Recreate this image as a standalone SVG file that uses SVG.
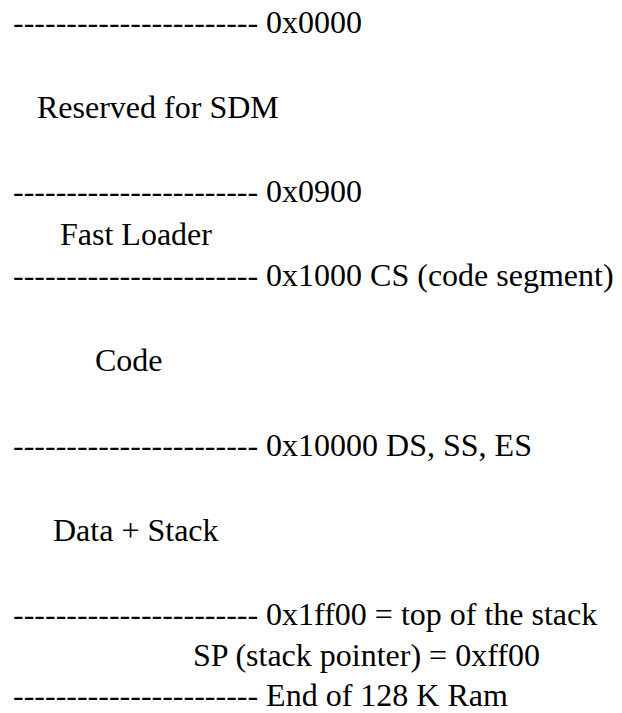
<svg xmlns="http://www.w3.org/2000/svg" width="622" height="713" viewBox="0 0 622 713">
<style>
text{font-family:"Liberation Serif","Times New Roman",serif;font-size:32px;fill:#000;white-space:pre}
</style>
<rect width="622" height="713" fill="#fff"/>
<g id="memory-map" font-family="Liberation Serif, serif">
<g id="addr-0000"><text x="13" y="33">----------------------- 0x0000</text></g>
<g id="reserved"><text x="37" y="118">Reserved for SDM</text></g>
<g id="addr-0900"><text x="13" y="202.2">----------------------- 0x0900</text></g>
<g id="fast-loader"><text x="60" y="244.5">Fast Loader</text></g>
<g id="addr-1000"><text x="13" y="286">----------------------- 0x1000 CS (code segment)</text></g>
<g id="code"><text x="95" y="371">Code</text></g>
<g id="addr-10000"><text x="13" y="456">----------------------- 0x10000 DS, SS, ES</text></g>
<g id="data-stack"><text x="53" y="541">Data + Stack</text></g>
<g id="addr-1ff00"><text x="13" y="624.5">----------------------- 0x1ff00 = top of the stack</text></g>
<g id="sp"><text x="193" y="665.5">SP (stack pointer) = 0xff00</text></g>
<g id="end"><text x="13" y="705.5">----------------------- End of 128 K Ram</text></g>
</g>
</svg>
